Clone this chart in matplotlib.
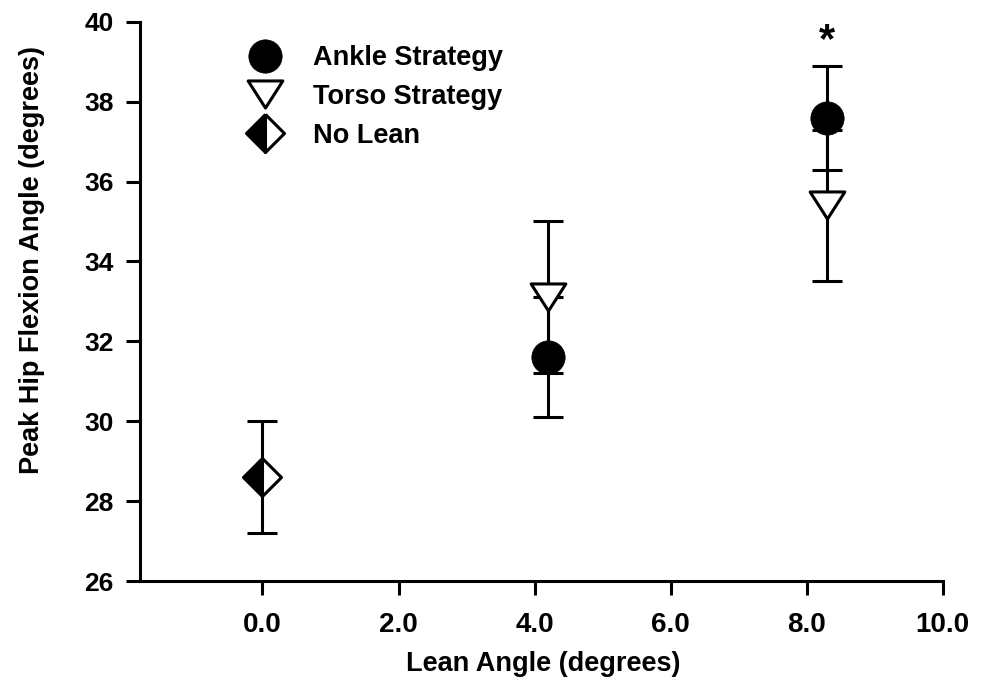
import matplotlib
matplotlib.use("Agg")
import matplotlib.pyplot as plt
from matplotlib.path import Path
from matplotlib.markers import MarkerStyle

plt.rcParams['font.family'] = ['Liberation Sans', 'DejaVu Sans']
plt.rcParams['font.weight'] = 'bold'

# Data
lean_x = [4.2, 8.3]
ankle_y = [31.6, 37.6]
ankle_err = [1.5, 1.3]
torso_y = [33.1, 35.4]
torso_err = [1.9, 1.9]
nolean_x = [0.0]
nolean_y = [28.6]
nolean_err = [1.4]
labels = ["Ankle Strategy", "Torso Strategy", "No Lean"]
xticks = [0, 2, 4, 6, 8, 10]
yticks = [26, 28, 30, 32, 34, 36, 38, 40]
sig_x = [8.3]

tri = Path([(-1, 0.78), (1, 0.78), (0, -0.78), (-1, 0.78)],
           [Path.MOVETO, Path.LINETO, Path.LINETO, Path.CLOSEPOLY])
tri_marker = MarkerStyle(tri, joinstyle='miter')
dia_marker = MarkerStyle('D', fillstyle='left', joinstyle='round')

fig = plt.figure(figsize=(9.84, 6.81), dpi=100)
ax = fig.add_axes([0.1423, 0.1468, 0.958 - 0.1423, 0.9681 - 0.1468])

lw = 2.2
ebkw = dict(fmt='none', ecolor='black', elinewidth=lw, capsize=10.8, capthick=lw, zorder=2)
ax.errorbar(lean_x, ankle_y, yerr=ankle_err, **ebkw)
ax.errorbar(lean_x, torso_y, yerr=torso_err, **ebkw)
ax.errorbar(nolean_x, nolean_y, yerr=nolean_err, **ebkw)

h1, = ax.plot(lean_x, ankle_y, linestyle='none', marker='o', ms=24,
              mfc='black', mec='black', mew=0.5, zorder=4)
h2, = ax.plot(lean_x, torso_y, linestyle='none', marker=tri_marker, ms=25,
              mfc='white', mec='black', mew=lw, zorder=3)
h3, = ax.plot(nolean_x, nolean_y, linestyle='none', marker=dia_marker, ms=19,
              mfc='black', mfcalt='white', mec='black', mew=lw, zorder=3)

for i, x in enumerate(lean_x):
    if x in sig_x:
        ax.text(x, ankle_y[i] + ankle_err[i] + 0.12, '*', ha='center', va='bottom',
                fontsize=30, fontweight='bold')

ax.set_xlim(-1.8, 10)
ax.set_ylim(26, 40)
ax.set_xticks(xticks)
ax.set_xticklabels([f"{t:.1f}" for t in xticks])
ax.set_yticks(yticks)
ax.set_yticklabels([str(t) for t in yticks])

for s in ['top', 'right']:
    ax.spines[s].set_visible(False)
for s in ['left', 'bottom']:
    ax.spines[s].set_linewidth(lw)
    ax.spines[s].set_capstyle('projecting')

ax.tick_params(axis='both', direction='out', length=10, width=lw)
ax.tick_params(axis='x', pad=12, labelsize=20)
ax.tick_params(axis='y', pad=9, labelsize=19)
for t in ax.get_xticklabels() + ax.get_yticklabels():
    t.set_fontweight('bold')

ax.set_xlabel("Lean Angle (degrees)", fontsize=19.5, fontweight='bold')
ax.set_ylabel("Peak Hip Flexion Angle (degrees)", fontsize=19.5, fontweight='bold')
ax.xaxis.set_label_coords(0.502, -0.125)
ax.yaxis.set_label_coords(-0.118, 0.574)

ax.legend([h1, h2, h3], labels, loc='upper left', bbox_to_anchor=(0.139, 0.958),
          frameon=False, borderpad=0, borderaxespad=0, handlelength=1.0,
          handletextpad=1.25, labelspacing=0.47, numpoints=1,
          prop={'size': 19.5, 'weight': 'bold'})

fig.savefig("out.png", dpi=100)
